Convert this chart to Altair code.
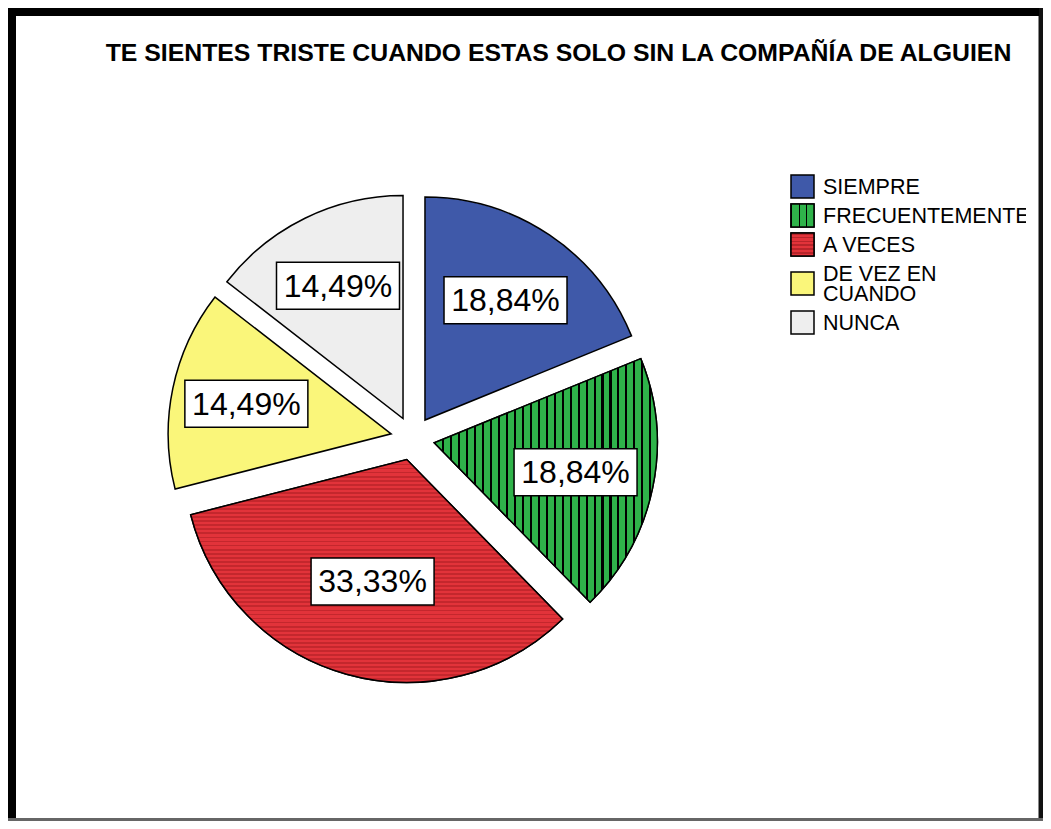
import altair as alt
import pandas as pd

# ---- data ----
categories = ["SIEMPRE", "FRECUENTEMENTE", "A VECES", "DE VEZ EN CUANDO", "NUNCA"]
legend_labels = ["SIEMPRE", "FRECUENTEMENTE", "A VECES", "DE VEZ EN\nCUANDO", "NUNCA"]
legend_lines = [1, 1, 1, 2, 1]
values = [18.84, 18.84, 33.33, 14.49, 14.49]
pct_labels = ["18,84%", "18,84%", "33,33%", "14,49%", "14,49%"]
colors = ["#3f59a9", "#2fb34a", "#e2333a", "#faf67a", "#eeeeee"]
TITLE = "TE SIENTES TRISTE CUANDO ESTAS SOLO SIN LA COMPAÑÍA DE ALGUIEN"

FONT = "Liberation Sans"

# ---- layout (pixels, chart coordinates) ----
W, H = 1035, 813
CX, CY = 404.7, 430.3   # pie centre
R = 223                 # pie radius
D = 22                  # explode offset
LF = 1.03               # label distance factor (relative to slice centroid)
BW, BH = 61.5, 23.5     # half sizes of label boxes
LEG_TOP = 164
SQ = 11.5
LH = 20                 # legend line height

df = pd.DataFrame({
    "idx": list(range(len(categories))),
    "cat": categories,
    "value": values,
    "label": pct_labels,
    "leg": legend_labels,
    "lines": legend_lines,
})


def stripes(n, base, dark, frac, vertical):
    stops = []
    for i in range(n):
        a = i / n
        b = (i + frac) / n
        e = min(1.0, (i + 1) / n)
        stops += [
            {"offset": a, "color": dark},
            {"offset": b, "color": dark},
            {"offset": b, "color": base},
            {"offset": e, "color": base},
        ]
    if vertical:
        return {"gradient": "linear", "x1": 0, "y1": 0, "x2": 1, "y2": 0, "stops": stops}
    return {"gradient": "linear", "x1": 0, "y1": 0, "x2": 0, "y2": 1, "stops": stops}


green_pie = stripes(28, colors[1], "#000000", 0.26, True)
red_pie = stripes(55, colors[2], "#c4272d", 0.45, False)
green_leg = stripes(3, colors[1], "#000000", 0.12, True)
red_leg = stripes(6, colors[2], "#b8242a", 0.4, False)

base = (
    alt.Chart(df)
    .transform_window(cum="sum(value)", sort=[alt.SortField("idx")], frame=[None, 0])
    .transform_joinaggregate(total="sum(value)")
    .transform_calculate(t0="(datum.cum - datum.value) / datum.total * 2 * PI")
    .transform_calculate(t1="datum.cum / datum.total * 2 * PI")
    .transform_calculate(tm="(datum.cum - datum.value / 2) / datum.total * 2 * PI")
    .transform_calculate(ha="datum.value / datum.total * PI")
    .transform_calculate(lr=f"{LF} * 2 * {R} * sin(datum.ha) / (3 * datum.ha)")
    .transform_calculate(px=f"{CX} + {D} * sin(datum.tm)")
    .transform_calculate(py=f"{CY} - {D} * cos(datum.tm)")
    .transform_calculate(lx="datum.px + datum.lr * sin(datum.tm)")
    .transform_calculate(ly="datum.py - datum.lr * cos(datum.tm)")
    .transform_calculate(bx0=f"datum.lx - {BW}", bx1=f"datum.lx + {BW}")
    .transform_calculate(by0=f"datum.ly - {BH}", by1=f"datum.ly + {BH}")
    .transform_window(lcum="sum(lines)", sort=[alt.SortField("idx")], frame=[None, 0])
    .transform_calculate(hh="9 + 20 * datum.lines")
    .transform_calculate(hcum="9 * (datum.idx + 1) + 20 * datum.lcum")
    .transform_calculate(gy=f"{LEG_TOP} + datum.hcum - datum.hh / 2")
    .transform_calculate(gy0=f"datum.gy - {SQ}", gy1=f"datum.gy + {SQ}")
    .transform_calculate(ty=f"datum.gy - (datum.lines - 1) * {LH} / 2")
)

arc_enc = dict(
    theta=alt.Theta("t0:Q", scale=None),
    theta2="t1:Q",
    x=alt.X("px:Q", scale=None, axis=None),
    y=alt.Y("py:Q", scale=None, axis=None),
)

color_enc = alt.Color(
    "cat:N", scale=alt.Scale(domain=categories, range=colors), legend=None
)

arcs = base.mark_arc(radius=R, stroke="black", strokeWidth=1.5).encode(
    color=color_enc, **arc_enc
)
arc_green = base.transform_filter("datum.cat == 'FRECUENTEMENTE'").mark_arc(
    radius=R, fill=green_pie, stroke="black", strokeWidth=1.5
).encode(**arc_enc)
arc_red = base.transform_filter("datum.cat == 'A VECES'").mark_arc(
    radius=R, fill=red_pie, stroke="black", strokeWidth=1.5
).encode(**arc_enc)

boxes = base.mark_rect(fill="white", stroke="black", strokeWidth=1.5).encode(
    x=alt.X("bx0:Q", scale=None, axis=None),
    x2="bx1:Q",
    y=alt.Y("by0:Q", scale=None, axis=None),
    y2="by1:Q",
)
texts = base.mark_text(
    font=FONT, fontSize=32, align="center", baseline="middle", dy=1, color="black"
).encode(
    x=alt.X("lx:Q", scale=None, axis=None),
    y=alt.Y("ly:Q", scale=None, axis=None),
    text="label:N",
)

leg_enc = dict(
    x=alt.value(783),
    x2=alt.value(806),
    y=alt.Y("gy0:Q", scale=None, axis=None),
    y2="gy1:Q",
)
leg_sq = base.mark_rect(stroke="black", strokeWidth=1.5).encode(
    color=color_enc, **leg_enc
)
leg_green = base.transform_filter("datum.cat == 'FRECUENTEMENTE'").mark_rect(
    fill=green_leg, stroke="black", strokeWidth=1.5
).encode(**leg_enc)
leg_red = base.transform_filter("datum.cat == 'A VECES'").mark_rect(
    fill=red_leg, stroke="black", strokeWidth=1.5
).encode(**leg_enc)
leg_txt = base.mark_text(
    font=FONT, fontSize=21.5, align="left", baseline="middle", lineBreak="\n",
    lineHeight=LH, color="black", dy=1,
).encode(
    x=alt.value(815),
    y=alt.Y("ty:Q", scale=None, axis=None),
    text="leg:N",
)
# clip of the long legend label at the panel edge
leg_clip = base.transform_filter("datum.idx == 0").mark_rect(fill="white").encode(
    x=alt.value(1018), x2=alt.value(1030), y=alt.value(192), y2=alt.value(226)
)

title = alt.Chart(pd.DataFrame({"t": [TITLE]})).mark_text(
    font=FONT, fontSize=24.8, fontWeight="bold", align="center",
    baseline="alphabetic", color="black",
).encode(text="t:N", x=alt.value(550.5), y=alt.value(53))

frame_df = pd.DataFrame({"k": [0]})
fb = alt.Chart(frame_df)
f_left = fb.mark_rect(fill="black").encode(
    x=alt.value(0), x2=alt.value(8), y=alt.value(0), y2=alt.value(H)
)
f_top = fb.mark_rect(fill="black").encode(
    x=alt.value(0), x2=alt.value(W), y=alt.value(0), y2=alt.value(8)
)
f_right = fb.mark_rect(fill="#111111").encode(
    x=alt.value(W - 4), x2=alt.value(W), y=alt.value(0), y2=alt.value(H)
)
f_right2 = fb.mark_rect(fill="#888888").encode(
    x=alt.value(W - 5), x2=alt.value(W - 4), y=alt.value(8), y2=alt.value(H)
)
f_bottom = fb.mark_rect(fill="#666666").encode(
    x=alt.value(0), x2=alt.value(W), y=alt.value(H - 3), y2=alt.value(H)
)

chart = alt.layer(
    arcs, arc_green, arc_red, boxes, texts,
    leg_sq, leg_green, leg_red, leg_txt, leg_clip,
    title, f_left, f_top, f_right, f_right2, f_bottom,
).properties(
    width=W, height=H, padding=0,
    autosize=alt.AutoSizeParams(type="none"),
    background="white",
).configure_view(stroke=None)

chart.save("out.html", embed_options={"renderer": "svg", "actions": False})
